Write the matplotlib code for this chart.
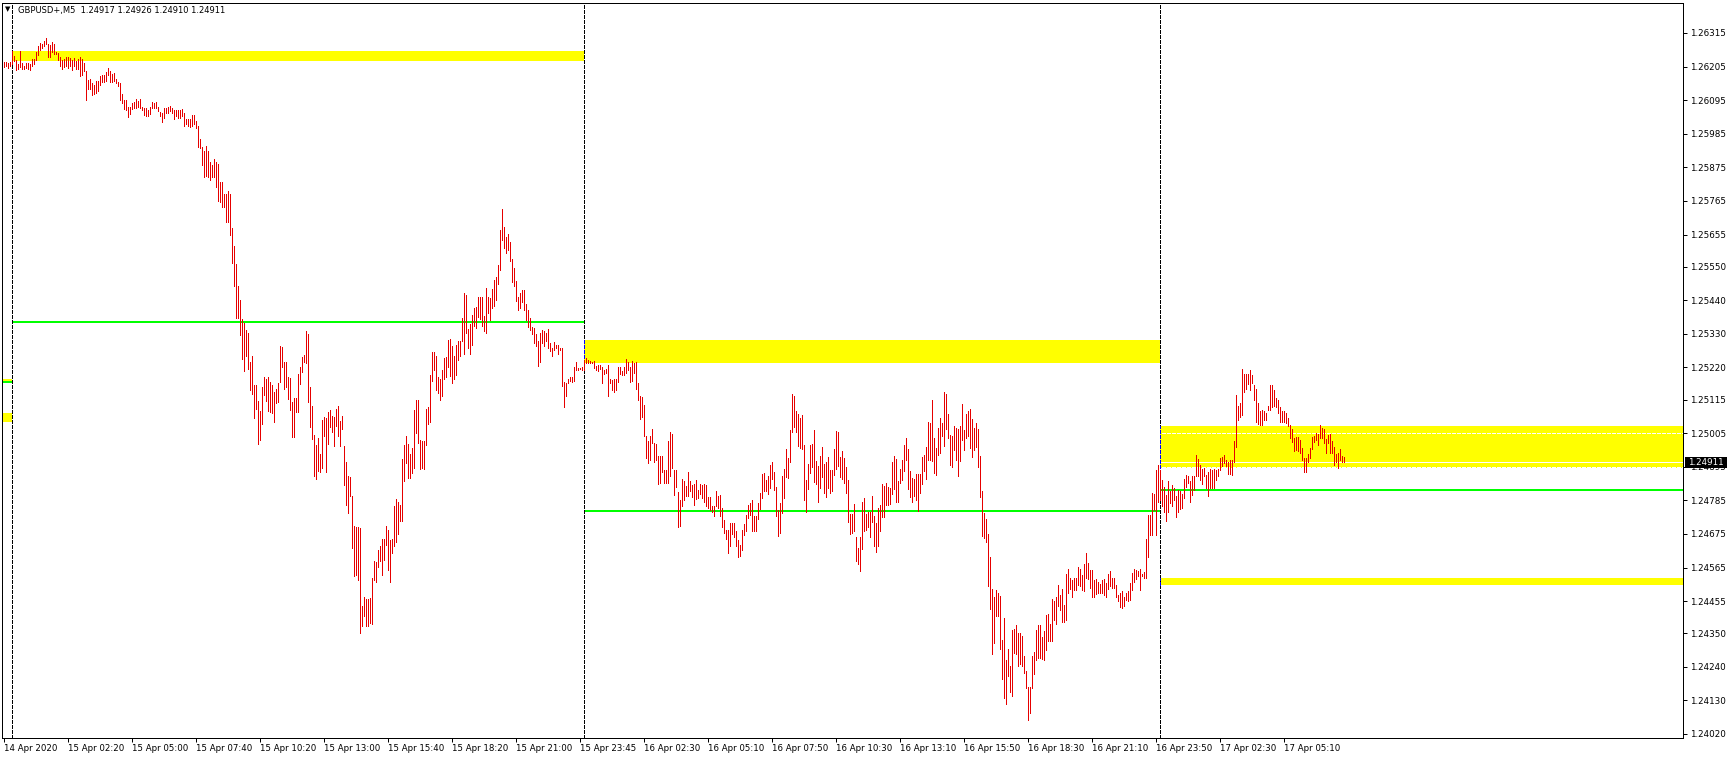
import numpy as np
import matplotlib
matplotlib.use("Agg")
import matplotlib.pyplot as plt
from matplotlib.patches import Rectangle

# ---------------- data ----------------
header_text = "GBPUSD+,M5  1.24917 1.24926 1.24910 1.24911"
last_price = 1.24911

time_labels = ["14 Apr 2020", "15 Apr 02:20", "15 Apr 05:00", "15 Apr 07:40", "15 Apr 10:20",
               "15 Apr 13:00", "15 Apr 15:40", "15 Apr 18:20", "15 Apr 21:00", "15 Apr 23:45",
               "16 Apr 02:30", "16 Apr 05:10", "16 Apr 07:50", "16 Apr 10:30", "16 Apr 13:10",
               "16 Apr 15:50", "16 Apr 18:30", "16 Apr 21:10", "16 Apr 23:50", "17 Apr 02:30",
               "17 Apr 05:10"]
bars_per_label = 32

price_ticks = [1.26315, 1.26205, 1.26095, 1.25985, 1.25875, 1.25765, 1.25655, 1.25550,
               1.25440, 1.25330, 1.25220, 1.25115, 1.25005, 1.24895, 1.24785, 1.24675,
               1.24565, 1.24455, 1.24350, 1.24240, 1.24130, 1.24020]

# day separators (bar index of 00:00)
day_starts = [4, 290, 578]

# M5 bar highs / lows, 14 Apr 23:40 -> 17 Apr ~07:45
highs_a = [1.26220, 1.26220, 1.26217, 1.26220, 1.26255, 1.26241, 1.26227, 1.26212, 1.26255, 1.26217,
           1.26208, 1.26217, 1.26217, 1.26214, 1.26229, 1.26231, 1.26252, 1.26272, 1.26282, 1.26278,
           1.26290, 1.26299, 1.26280, 1.26276, 1.26284, 1.26278, 1.26252, 1.26249, 1.26237, 1.26228,
           1.26229, 1.26237, 1.26235, 1.26234, 1.26226, 1.26234, 1.26222, 1.26231, 1.26237, 1.26231,
           1.26217, 1.26190, 1.26161, 1.26164, 1.26150, 1.26144, 1.26158, 1.26159, 1.26175, 1.26179,
           1.26179, 1.26187, 1.26199, 1.26190, 1.26182, 1.26185, 1.26164, 1.26155, 1.26150, 1.26114,
           1.26097, 1.26097, 1.26073, 1.26073, 1.26085, 1.26088, 1.26099, 1.26093, 1.26099, 1.26073,
           1.26071, 1.26070, 1.26062, 1.26073, 1.26088, 1.26085, 1.26088, 1.26073, 1.26056, 1.26054,
           1.26070, 1.26070, 1.26073, 1.26077, 1.26070, 1.26062, 1.26062, 1.26062, 1.26062, 1.26065,
           1.26054, 1.26033, 1.26033, 1.26033, 1.26047, 1.26047, 1.26027, 1.26009, 1.25968, 1.25941,
           1.25927, 1.25945, 1.25927, 1.25892, 1.25883, 1.25904, 1.25894, 1.25886, 1.25828, 1.25828,
           1.25787, 1.25787, 1.25799, 1.25787, 1.25678, 1.25617, 1.25559, 1.25488, 1.25442, 1.25380,
           1.25366, 1.25342, 1.25333, 1.25237, 1.25257, 1.25161, 1.25161, 1.25111, 1.25079, 1.25157,
           1.25188, 1.25181, 1.25188, 1.25173, 1.25161, 1.25141, 1.25149, 1.25169, 1.25290, 1.25286,
           1.25237, 1.25237, 1.25190, 1.25184, 1.25106, 1.25120, 1.25120, 1.25200, 1.25222, 1.25254,
           1.25260, 1.25339, 1.25328, 1.25155, 1.25094, 1.25000, 1.24965, 1.24989, 1.24935, 1.25047,
           1.25059, 1.25056, 1.25073, 1.25082, 1.25061, 1.25059, 1.25085, 1.25094, 1.25044, 1.25061]
lows_a = [1.26204, 1.26208, 1.26202, 1.26208, 1.26214, 1.26222, 1.26193, 1.26196, 1.26204, 1.26196,
          1.26196, 1.26199, 1.26196, 1.26193, 1.26208, 1.26215, 1.26226, 1.26243, 1.26258, 1.26267,
          1.26272, 1.26278, 1.26237, 1.26237, 1.26252, 1.26247, 1.26247, 1.26226, 1.26206, 1.26196,
          1.26204, 1.26208, 1.26202, 1.26208, 1.26193, 1.26208, 1.26196, 1.26196, 1.26173, 1.26179,
          1.26190, 1.26097, 1.26130, 1.26130, 1.26112, 1.26114, 1.26120, 1.26124, 1.26146, 1.26153,
          1.26155, 1.26159, 1.26179, 1.26153, 1.26155, 1.26159, 1.26150, 1.26141, 1.26095, 1.26085,
          1.26065, 1.26062, 1.26041, 1.26050, 1.26065, 1.26068, 1.26068, 1.26073, 1.26068, 1.26062,
          1.26047, 1.26042, 1.26042, 1.26050, 1.26070, 1.26068, 1.26070, 1.26058, 1.26042, 1.26023,
          1.26038, 1.26054, 1.26052, 1.26058, 1.26054, 1.26035, 1.26044, 1.26038, 1.26038, 1.26044,
          1.26011, 1.26018, 1.26009, 1.26006, 1.26011, 1.26018, 1.26003, 1.25941, 1.25939, 1.25883,
          1.25842, 1.25848, 1.25845, 1.25834, 1.25845, 1.25843, 1.25810, 1.25766, 1.25763, 1.25744,
          1.25744, 1.25696, 1.25696, 1.25655, 1.25562, 1.25486, 1.25383, 1.25383, 1.25327, 1.25249,
          1.25208, 1.25257, 1.25216, 1.25146, 1.25132, 1.25056, 1.25085, 1.24970, 1.24982, 1.25035,
          1.25129, 1.25111, 1.25079, 1.25073, 1.25071, 1.25040, 1.25102, 1.25106, 1.25173, 1.25222,
          1.25149, 1.25155, 1.25118, 1.25081, 1.24991, 1.24991, 1.25075, 1.25075, 1.25167, 1.25204,
          1.25237, 1.25235, 1.25107, 1.25024, 1.24985, 1.24863, 1.24854, 1.24880, 1.24877, 1.24892,
          1.24994, 1.24877, 1.24968, 1.25024, 1.25009, 1.24962, 1.25029, 1.24997, 1.24962, 1.25017]

highs_b = [1.24963, 1.24912, 1.24865, 1.24860, 1.24798, 1.24701, 1.24696, 1.24699, 1.24694, 1.24440,
           1.24470, 1.24462, 1.24462, 1.24465, 1.24532, 1.24585, 1.24582, 1.24623, 1.24634, 1.24658,
           1.24658, 1.24701, 1.24688, 1.24654, 1.24658, 1.24765, 1.24789, 1.24778, 1.24770, 1.24920,
           1.24967, 1.24994, 1.24970, 1.24937, 1.24956, 1.25081, 1.25114, 1.25112, 1.24983, 1.24978,
           1.24978, 1.25083, 1.25089, 1.25196, 1.25269, 1.25272, 1.25258, 1.25190, 1.25182, 1.25210,
           1.25250, 1.25254, 1.25310, 1.25313, 1.25289, 1.25256, 1.25294, 1.25305, 1.25307, 1.25381,
           1.25463, 1.25458, 1.25345, 1.25363, 1.25392, 1.25414, 1.25419, 1.25452, 1.25450, 1.25452,
           1.25387, 1.25479, 1.25452, 1.25447, 1.25476, 1.25507, 1.25515, 1.25556, 1.25670, 1.25738,
           1.25681, 1.25646, 1.25657, 1.25632, 1.25574, 1.25545, 1.25503, 1.25452, 1.25463, 1.25474,
           1.25474, 1.25428, 1.25409, 1.25381, 1.25354, 1.25349, 1.25330, 1.25307, 1.25334, 1.25343,
           1.25338, 1.25332, 1.25345, 1.25299, 1.25285, 1.25302, 1.25294, 1.25294, 1.25283, 1.25283,
           1.25171, 1.25169, 1.25183, 1.25190, 1.25188, 1.25221, 1.25237, 1.25218, 1.25218, 1.25220,
           1.25245, 1.25250, 1.25245, 1.25242, 1.25239, 1.25242, 1.25226, 1.25229, 1.25229, 1.25223,
           1.25212, 1.25214, 1.25229, 1.25183, 1.25179, 1.25182, 1.25183, 1.25221, 1.25221, 1.25207,
           1.25221, 1.25247, 1.25239, 1.25223, 1.25242, 1.25236, 1.25239, 1.25169, 1.25125, 1.25123,
           1.25098, 1.24996, 1.24978, 1.24996, 1.25018, 1.24972, 1.24969, 1.24929, 1.24931, 1.24929,
           1.24883, 1.24885, 1.24978, 1.25010, 1.25003, 1.24885, 1.24885, 1.24811, 1.24787, 1.24854,
           1.24847, 1.24832, 1.24878, 1.24847]
lows_b = [1.24836, 1.24770, 1.24743, 1.24798, 1.24628, 1.24538, 1.24541, 1.24525, 1.24352, 1.24374,
          1.24405, 1.24372, 1.24374, 1.24383, 1.24380, 1.24525, 1.24519, 1.24568, 1.24585, 1.24541,
          1.24590, 1.24639, 1.24558, 1.24516, 1.24612, 1.24634, 1.24647, 1.24675, 1.24716, 1.24716,
          1.24849, 1.24907, 1.24858, 1.24858, 1.24874, 1.24890, 1.25005, 1.24972, 1.24887, 1.24890,
          1.24887, 1.24967, 1.25035, 1.25040, 1.25174, 1.25212, 1.25145, 1.25136, 1.25114, 1.25127,
          1.25182, 1.25190, 1.25223, 1.25193, 1.25169, 1.25182, 1.25196, 1.25245, 1.25258, 1.25305,
          1.25265, 1.25332, 1.25283, 1.25265, 1.25294, 1.25356, 1.25349, 1.25385, 1.25378, 1.25356,
          1.25338, 1.25332, 1.25398, 1.25376, 1.25414, 1.25422, 1.25441, 1.25494, 1.25539, 1.25638,
          1.25610, 1.25596, 1.25605, 1.25567, 1.25501, 1.25485, 1.25439, 1.25409, 1.25414, 1.25433,
          1.25409, 1.25376, 1.25354, 1.25343, 1.25330, 1.25299, 1.25291, 1.25225, 1.25239, 1.25299,
          1.25289, 1.25305, 1.25283, 1.25275, 1.25258, 1.25278, 1.25283, 1.25265, 1.25278, 1.25158,
          1.25089, 1.25125, 1.25169, 1.25174, 1.25172, 1.25174, 1.25212, 1.25212, 1.25214, 1.25212,
          1.25212, 1.25234, 1.25234, 1.25234, 1.25234, 1.25218, 1.25210, 1.25207, 1.25214, 1.25169,
          1.25199, 1.25201, 1.25125, 1.25169, 1.25147, 1.25138, 1.25145, 1.25171, 1.25199, 1.25196,
          1.25196, 1.25201, 1.25212, 1.25171, 1.25174, 1.25201, 1.25149, 1.25112, 1.25051, 1.25059,
          1.24994, 1.24923, 1.24907, 1.24918, 1.24972, 1.24909, 1.24918, 1.24838, 1.24843, 1.24879,
          1.24841, 1.24843, 1.24843, 1.24865, 1.24890, 1.24803, 1.24830, 1.24699, 1.24701, 1.24765,
          1.24787, 1.24798, 1.24800, 1.24814]

highs_c = [1.24835, 1.24839, 1.24850, 1.24819, 1.24839, 1.24835, 1.24839, 1.24835, 1.24797, 1.24797,
           1.24767, 1.24767, 1.24814, 1.24799, 1.24801, 1.24759, 1.24721, 1.24688, 1.24688, 1.24712,
           1.24712, 1.24710, 1.24685, 1.24655, 1.24639, 1.24688, 1.24707, 1.24737, 1.24770, 1.24775,
           1.24786, 1.24732, 1.24734, 1.24775, 1.24810, 1.24871, 1.24876, 1.24852, 1.24865, 1.24901,
           1.24912, 1.24879, 1.24827, 1.24754, 1.24775, 1.24865, 1.24888, 1.24953, 1.24923, 1.25015,
           1.25133, 1.25127, 1.25079, 1.25068, 1.25054, 1.25065, 1.24966, 1.24852, 1.24904, 1.24966,
           1.24970, 1.25015, 1.24915, 1.24898, 1.24930, 1.24958, 1.24904, 1.24909, 1.24926, 1.24885,
           1.24885, 1.24953, 1.25012, 1.25007, 1.24928, 1.24945, 1.24923, 1.24895, 1.24852, 1.24740,
           1.24740, 1.24773, 1.24664, 1.24630, 1.24666, 1.24778, 1.24794, 1.24739, 1.24748, 1.24746,
           1.24800, 1.24734, 1.24712, 1.24759, 1.24768, 1.24838, 1.24832, 1.24843, 1.24830, 1.24826,
           1.24912, 1.24930, 1.24920, 1.24849, 1.24888, 1.24917, 1.24966, 1.24989, 1.24954, 1.24881,
           1.24857, 1.24854, 1.24870, 1.24871, 1.24870, 1.24926, 1.24934, 1.24958, 1.25043, 1.25039,
           1.25114, 1.24988, 1.24955, 1.25021, 1.25054, 1.25039, 1.25138, 1.25132, 1.25068, 1.24999,
           1.24994, 1.25029, 1.25021, 1.25018, 1.25029, 1.25100, 1.25015, 1.25067, 1.25079, 1.25084,
           1.25051, 1.25021, 1.25039, 1.25018, 1.24930, 1.24814, 1.24743, 1.24724, 1.24675, 1.24598,
           1.24495, 1.24468, 1.24490, 1.24481, 1.24472, 1.24328, 1.24399, 1.24261, 1.24299, 1.24241,
           1.24361, 1.24364, 1.24377, 1.24350, 1.24350, 1.24341, 1.24276, 1.24225, 1.24175, 1.24173,
           1.24276, 1.24288, 1.24361, 1.24377, 1.24377]
lows_c = [1.24797, 1.24768, 1.24789, 1.24792, 1.24806, 1.24792, 1.24781, 1.24765, 1.24759, 1.24754,
          1.24748, 1.24735, 1.24765, 1.24759, 1.24735, 1.24697, 1.24679, 1.24658, 1.24614, 1.24636,
          1.24675, 1.24666, 1.24636, 1.24598, 1.24603, 1.24623, 1.24672, 1.24685, 1.24726, 1.24737,
          1.24683, 1.24683, 1.24685, 1.24724, 1.24756, 1.24794, 1.24814, 1.24814, 1.24806, 1.24825,
          1.24854, 1.24819, 1.24735, 1.24669, 1.24679, 1.24743, 1.24794, 1.24860, 1.24857, 1.24909,
          1.25007, 1.25024, 1.25007, 1.24963, 1.24955, 1.24952, 1.24786, 1.24748, 1.24821, 1.24876,
          1.24895, 1.24846, 1.24839, 1.24778, 1.24825, 1.24860, 1.24808, 1.24797, 1.24825, 1.24808,
          1.24817, 1.24868, 1.24887, 1.24898, 1.24860, 1.24854, 1.24843, 1.24810, 1.24715, 1.24675,
          1.24677, 1.24686, 1.24585, 1.24576, 1.24555, 1.24626, 1.24685, 1.24688, 1.24699, 1.24666,
          1.24713, 1.24636, 1.24617, 1.24637, 1.24686, 1.24729, 1.24730, 1.24770, 1.24770, 1.24773,
          1.24806, 1.24821, 1.24778, 1.24778, 1.24841, 1.24852, 1.24882, 1.24917, 1.24823, 1.24797,
          1.24778, 1.24799, 1.24786, 1.24750, 1.24808, 1.24839, 1.24882, 1.24854, 1.24917, 1.24917,
          1.24915, 1.24874, 1.24868, 1.24934, 1.24939, 1.24994, 1.24963, 1.25018, 1.24988, 1.24901,
          1.24895, 1.24950, 1.24917, 1.24863, 1.24915, 1.24983, 1.24950, 1.24988, 1.24994, 1.24955,
          1.24928, 1.24950, 1.24961, 1.24895, 1.24797, 1.24669, 1.24661, 1.24650, 1.24503, 1.24429,
          1.24281, 1.24319, 1.24405, 1.24407, 1.24298, 1.24199, 1.24137, 1.24118, 1.24210, 1.24156,
          1.24145, 1.24285, 1.24282, 1.24243, 1.24250, 1.24241, 1.24221, 1.24170, 1.24066, 1.24088,
          1.24170, 1.24216, 1.24261, 1.24268, 1.24268]

highs_d = [1.24339, 1.24358, 1.24410, 1.24413, 1.24381, 1.24462, 1.24454, 1.24467, 1.24508, 1.24476,
           1.24494, 1.24443, 1.24544, 1.24561, 1.24530, 1.24525, 1.24532, 1.24530, 1.24568, 1.24560,
           1.24541, 1.24576, 1.24612, 1.24579, 1.24558, 1.24558, 1.24525, 1.24527, 1.24519, 1.24512,
           1.24525, 1.24527, 1.24514, 1.24543, 1.24555, 1.24530, 1.24530, 1.24508, 1.24476, 1.24483,
           1.24487, 1.24470, 1.24481, 1.24489, 1.24514, 1.24547, 1.24560, 1.24558, 1.24552, 1.24560,
           1.24544, 1.24549, 1.24658, 1.24738, 1.24738, 1.24808, 1.24806, 1.24885, 1.24901, 1.24885,
           1.24850, 1.24830, 1.24803, 1.24847, 1.24814, 1.24836, 1.24825, 1.24798, 1.24819, 1.24814,
           1.24806, 1.24854, 1.24868, 1.24863, 1.24847, 1.24863, 1.24863, 1.24934, 1.24920, 1.24901,
           1.24887, 1.24890, 1.24868, 1.24879, 1.24887, 1.24885, 1.24887, 1.24885, 1.24887, 1.24925,
           1.24928, 1.24934, 1.24918, 1.24912, 1.24918, 1.24918, 1.24980, 1.25130, 1.25094, 1.25103,
           1.25214, 1.25199, 1.25199, 1.25198, 1.25212, 1.25196, 1.25163, 1.25149, 1.25103, 1.25076,
           1.25081, 1.25078, 1.25072, 1.25094, 1.25163, 1.25163, 1.25147, 1.25119, 1.25114, 1.25092,
           1.25076, 1.25076, 1.25070, 1.25054, 1.25032, 1.25018, 1.24988, 1.24992, 1.24992, 1.24983,
           1.24956, 1.24923, 1.24925, 1.24937, 1.24956, 1.24992, 1.24996, 1.25005, 1.25003, 1.25032,
           1.25023, 1.25018, 1.24985, 1.24999, 1.25003, 1.24980, 1.24961, 1.24936, 1.24939, 1.24953,
           1.24931, 1.24926]
lows_d = [1.24265, 1.24261, 1.24296, 1.24323, 1.24326, 1.24326, 1.24394, 1.24381, 1.24438, 1.24427,
          1.24388, 1.24388, 1.24392, 1.24481, 1.24494, 1.24467, 1.24492, 1.24490, 1.24508, 1.24505,
          1.24492, 1.24487, 1.24530, 1.24527, 1.24497, 1.24468, 1.24470, 1.24479, 1.24481, 1.24481,
          1.24481, 1.24476, 1.24467, 1.24494, 1.24503, 1.24497, 1.24497, 1.24470, 1.24454, 1.24437,
          1.24432, 1.24440, 1.24459, 1.24454, 1.24459, 1.24490, 1.24519, 1.24527, 1.24538, 1.24490,
          1.24538, 1.24530, 1.24530, 1.24601, 1.24672, 1.24672, 1.24754, 1.24672, 1.24781, 1.24787,
          1.24765, 1.24748, 1.24716, 1.24748, 1.24776, 1.24767, 1.24787, 1.24729, 1.24748, 1.24756,
          1.24759, 1.24792, 1.24830, 1.24841, 1.24781, 1.24803, 1.24819, 1.24863, 1.24865, 1.24850,
          1.24839, 1.24863, 1.24825, 1.24800, 1.24825, 1.24825, 1.24825, 1.24852, 1.24863, 1.24885,
          1.24896, 1.24907, 1.24896, 1.24872, 1.24872, 1.24868, 1.24912, 1.24961, 1.25048, 1.25057,
          1.25065, 1.25138, 1.25150, 1.25165, 1.25145, 1.25168, 1.25114, 1.25043, 1.25035, 1.25032,
          1.25032, 1.25048, 1.25048, 1.25081, 1.25081, 1.25090, 1.25094, 1.25090, 1.25072, 1.25043,
          1.25040, 1.25043, 1.25037, 1.25027, 1.24988, 1.24977, 1.24948, 1.24950, 1.24948, 1.24939,
          1.24918, 1.24879, 1.24879, 1.24912, 1.24923, 1.24952, 1.24977, 1.24981, 1.24967, 1.24988,
          1.24988, 1.24974, 1.24941, 1.24972, 1.24941, 1.24941, 1.24901, 1.24909, 1.24892, 1.24918,
          1.24909, 1.24910]

# chart objects (price levels)
zone_left_a = (1.25171, 1.25182)
zone_left_b = (1.25041, 1.25071)
zone_day1 = (1.26223, 1.26256)
zone_day2 = (1.25235, 1.25310)
zone_day3_upper = (1.24892, 1.25029)
zone_day3_lower = (1.24508, 1.24531)
level_left = 1.25171
level_day1 = 1.25369
level_day2 = 1.24751
level_day3 = 1.24820

# ---------------- figure ----------------
plt.rcParams['font.family'] = ['DejaVu Sans']
plt.rcParams['lines.scale_dashes'] = False

W, H = 1729, 759
fig = plt.figure(figsize=(W / 100, H / 100), dpi=100, facecolor='white')
ax_left, ax_right, ax_top, ax_bot = 2, 1683, 3, 738
ax = fig.add_axes([ax_left / W, (H - ax_bot) / H, (ax_right - ax_left) / W, (ax_bot - ax_top) / H])
ax.set_facecolor('white')

highs = np.array(highs_a + highs_b + highs_c + highs_d)
lows = np.array(lows_a + lows_b + lows_c + lows_d)
n = len(highs)
xs = np.arange(n)

x0 = -0.75
x1 = x0 + (ax_right - ax_left) / 2.0
ax.set_xlim(x0, x1)
ppx = 0.00003274
y_top = 1.26423 - ax_top * ppx
y_bot = 1.26423 - ax_bot * ppx
ax.set_ylim(y_bot, y_top)

YEL = '#ffff00'
GRN = '#00ff00'
px = 0.72  # one pixel in points

def zone(xa, xb, lohi):
    ax.add_patch(Rectangle((xa, lohi[0]), xb - xa, lohi[1] - lohi[0],
                           facecolor=YEL, edgecolor='none', zorder=1))

d1, d2, d3 = day_starts
zone(x0, d1, zone_left_a)
zone(x0, d1, zone_left_b)
zone(d1, d2, zone_day1)
zone(d2, d3, zone_day2)
zone(d3, x1, zone_day3_upper)
zone(d3, x1, zone_day3_lower)

# grid lines (white, dashed; only visible over the yellow zones)
for p in price_ticks:
    ax.plot([x0, x1], [p, p], color='white', lw=px, dashes=(3 * px, 2 * px), zorder=1.5,
            antialiased=False)

# bid line
ax.plot([x0, x1], [last_price, last_price], color='white', lw=px, zorder=1.6, antialiased=False)

# green levels
for xa, xb, lv in [(x0, d1, level_left), (d1, d2, level_day1), (d2, d3, level_day2), (d3, x1, level_day3)]:
    ax.plot([xa, xb], [lv, lv], color=GRN, lw=2 * px, zorder=2, solid_capstyle='butt',
            antialiased=False)

# day separators
for d in day_starts:
    ax.plot([d, d], [y_bot, y_top], color='black', lw=px, dashes=(3 * px, 2 * px), zorder=2.5,
            antialiased=False)
for d, z in [(d1, zone_day1), (d2, zone_day2), (d3, zone_day3_upper), (d3, zone_day3_lower)]:
    ax.plot([d, d], [z[0], z[1]], color='#0000ff', lw=px, dashes=(3 * px, 2 * px), zorder=2.6,
            antialiased=False)

# price bars
ax.vlines(xs, lows, highs, colors='#e60000', linewidth=px, zorder=3, antialiased=False)

# frame
for s in ax.spines.values():
    s.set_color('black')
    s.set_linewidth(px)
    s.set_zorder(5)

# price axis on the right
ax.yaxis.tick_right()
ax.set_yticks(price_ticks)
ax.set_yticklabels([f"{p:.5f}" for p in price_ticks])
ax.tick_params(axis='y', direction='out', length=3, width=px, pad=2, labelsize=6.3,
               colors='black')

# time axis
tick_pos = [i * bars_per_label for i in range(len(time_labels))]
ax.set_xticks(tick_pos)
ax.set_xticklabels(time_labels, ha='left')
ax.tick_params(axis='x', direction='out', length=3, width=px, pad=1.5, labelsize=6.2,
               colors='black')

# header
fig.text(5 / W, 1 - 9.5 / H, "\u25BC", fontsize=5, color='black', va='center', ha='left')
fig.text(18 / W, 1 - 10 / H, header_text, fontsize=6.0, color='black', va='center', ha='left')

# current price label
bx0, bx1, by0, by1 = 1685, 1727, 457, 468
fig.patches.append(Rectangle((bx0 / W, 1 - by1 / H), (bx1 - bx0) / W, (by1 - by0) / H,
                             transform=fig.transFigure, facecolor='black', edgecolor='none',
                             zorder=10))
fig.text((bx0 + 3) / W, 1 - 462.5 / H, f"{last_price:.5f}", fontsize=6.3, color='white',
         va='center', ha='left', zorder=11)

fig.savefig('out.png', dpi=100, facecolor='white')
